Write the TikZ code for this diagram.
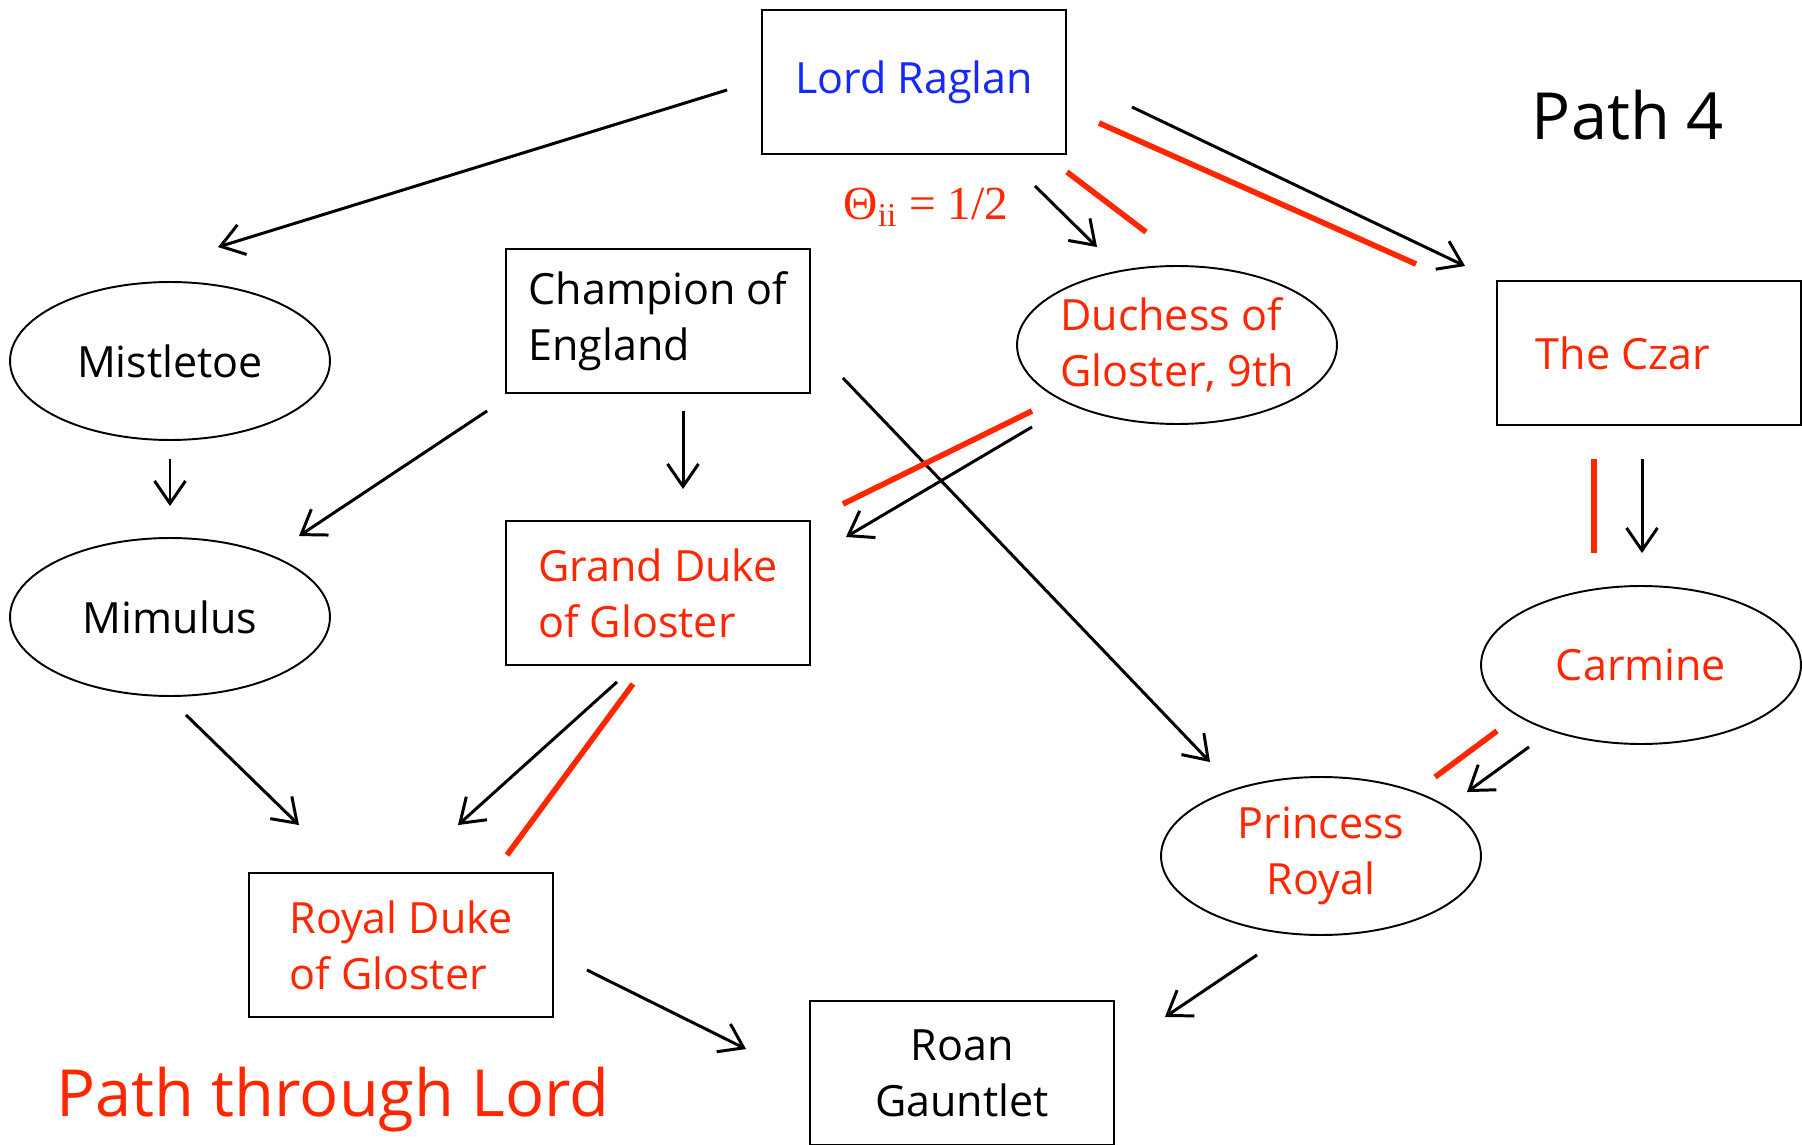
\documentclass[tikz,border=0pt]{standalone}
\usepackage{fontspec}
\setmainfont{Open Sans}
\newfontfamily\thetafont{Liberation Serif}
\usetikzlibrary{shapes.geometric,arrows.meta,calc}
\definecolor{pathred}{RGB}{255,38,0}
\definecolor{lordblue}{RGB}{20,40,255}
\tikzset{
  box/.style={draw, line width=1.1pt, minimum width=6.08cm, minimum height=2.88cm, inner sep=0pt, align=left, font=\fontsize{24.5}{32}\selectfont},
  oval/.style={draw, ellipse, line width=1.1pt, minimum width=6.4cm, minimum height=3.16cm, inner sep=-0.4cm, align=center, font=\fontsize{24.5}{32}\selectfont},
  arr/.style={-{Straight Barb[length=0.45cm,width=0.62cm]}, line width=1.7pt},
  redline/.style={pathred, line width=3.2pt},
}
\begin{document}
\begin{tikzpicture}[x=0.02cm, y=-0.02cm]
	\useasboundingbox (0,0) rectangle (1802,1145);
	\clip (0,0) rectangle (1802,1145);
	% boxes
	\node[box] (raglan) at (914,82) {\textcolor{lordblue}{Lord Raglan}};
	\node[box] (champion) at (658,321) {Champion of\\England};
	\node[box, text=pathred] (grand) at (658,593) {Grand Duke\\of Gloster};
	\node[box, text=pathred] (royal) at (401,945) {Royal Duke\\of Gloster};
	\node[box, align=center] (roan) at (962,1073) {Roan\\Gauntlet};
	\node[box, text=pathred] (czar) at (1649,353) {The Czar\hspace*{1.04cm}};
	% ovals
	\node[oval] (mist) at (170,361) {Mistletoe};
	\node[oval] (mimulus) at (170,617) {Mimulus};
	\node[oval, text=pathred, align=left] (duchess) at (1177,345) {Duchess of\\Gloster, 9th};
	\node[oval, text=pathred] (carmine) at (1641,665) {Carmine};
	\node[oval, text=pathred] (princess) at (1321,856) {Princess\\Royal};
	% labels
	\node[text=pathred, font=\thetafont\fontsize{27}{30}\selectfont] (theta) at (926,207) {Θ\textsubscript{ii} = 1/2};
	\node[font=\fontsize{37}{40}\selectfont] (path4) at (1628,115) {Path 4};
	\node[text=pathred, font=\fontsize{37}{40}\selectfont] (title) at (333,1100) {Path through Lord};
	% arrows
	\draw[arr] ($(raglan.west)+(-34,8)$) -- ($(mist.north)+(48,-34)$);
	\draw[arr] ($(raglan.east)+(65,25)$) -- ($(czar.north west)+(-31,-14)$);
	\draw[arr] ($(raglan.south east)+(-32,31)$) -- ($(duchess.north)+(-80,-18)$);
	\draw[arr] ($(mist.south)+(0,18)$) -- ($(mimulus.north)+(0,-31)$);
	\draw[arr] ($(champion.south west)+(-18,17)$) -- ($(mimulus.north)+(129,-1)$);
	\draw[arr] ($(champion.south)+(25,17)$) -- ($(grand.north)+(25,-31)$);
	\draw[arr] ($(champion.east)+(32,57)$) -- ($(princess.north)+(-111,-14)$);
	\draw[arr] ($(duchess.south)+(-145,2)$) -- ($(grand.east)+(35,-56)$);
	\draw[arr] ($(mimulus.south)+(16,18)$) -- ($(royal.north)+(-102,-47)$);
	\draw[arr] ($(grand.south)+(-41,16)$) -- ($(royal.north)+(57,-47)$);
	\draw[arr] ($(czar.south)+(-7,33)$) -- ($(carmine.north)+(1,-32)$);
	\draw[arr] ($(carmine.south)+(-112,2)$) -- ($(princess.north)+(146,16)$);
	\draw[arr] ($(royal.east)+(33,25)$) -- ($(roan.north west)+(-63,49)$);
	\draw[arr] ($(princess.south)+(-64,19)$) -- ($(roan.north east)+(50,17)$);
	% red path marks
	\draw[redline] ($(raglan.east)+(32,41)$) -- ($(czar.north west)+(-80,-16)$);
	\draw[redline] ($(raglan.south east)+(0,17)$) -- ($(duchess.north)+(-31,-33)$);
	\draw[redline] ($(duchess.south)+(-145,-14)$) -- ($(grand.east)+(32,-89)$);
	\draw[redline] ($(grand.south)+(-25,18)$) -- ($(royal.north)+(106,-17)$);
	\draw[redline] ($(czar.south)+(-55,33)$) -- ($(carmine.north)+(-47,-32)$);
	\draw[redline] ($(carmine.south)+(-144,-14)$) -- ($(princess.north)+(114,1)$);
\end{tikzpicture}
\end{document}
